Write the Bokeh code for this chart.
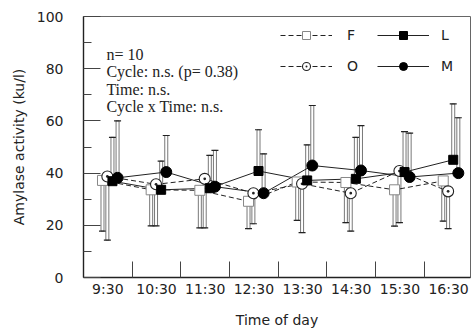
from bokeh.plotting import figure
from bokeh.models import Range1d, FixedTicker, Legend, LegendItem
from bokeh.core.properties import value
from bokeh.embed import file_html
from bokeh.resources import INLINE

# ---- data ----
times = ["9:30", "10:30", "11:30", "12:30", "13:30", "14:30", "15:30", "16:30"]
F_mean = [37.2, 33.6, 33.4, 29.2, 36.6, 36.4, 33.6, 37.0]
F_low = [17.8, 19.8, 19.0, 18.7, 21.9, 21.0, 19.7, 21.6]
O_mean = [38.7, 35.7, 37.8, 32.3, 35.9, 32.3, 40.8, 33.0]
O_low = [14.3, 19.8, 19.0, 20.6, 17.2, 17.8, 21.0, 18.7]
L_mean = [36.9, 33.6, 34.2, 40.8, 37.2, 37.8, 40.4, 45.1]
L_high = [53.7, 44.6, 46.8, 56.6, 50.8, 53.7, 55.9, 66.5]
M_mean = [38.2, 40.4, 34.8, 32.3, 42.9, 41.0, 38.5, 40.0]
M_high = [60.0, 54.4, 48.7, 47.4, 65.9, 58.2, 55.3, 61.2]
y_ticks = [0, 20, 40, 60, 80, 100]
y_minor = [10, 30, 50, 70, 90]
stats_lines = ["n= 10", "Cycle: n.s. (p= 0.38)", "Time: n.s.", "Cycle x Time: n.s."]

SANS = "DejaVu Sans"
idx = list(range(len(times)))
off = {"F": -0.11, "O": -0.01, "L": 0.095, "M": 0.2}
xs = {k: [i + o for i in idx] for k, o in off.items()}

p = figure(width=472, height=332, output_backend="svg", toolbar_location=None,
           x_range=Range1d(-0.5, 7.45), y_range=Range1d(0, 100),
           min_border_left=83, min_border_right=2, min_border_top=16, min_border_bottom=55)
p.grid.visible = False
p.outline_line_color = "#666"
p.background_fill_color = "white"
p.border_fill_color = "white"

def errbar(x, mean, end):
    yc = [(a + b) / 2 for a, b in zip(mean, end)]
    h = [abs(a - b) for a, b in zip(mean, end)]
    p.rect(x=x, y=yc, width=3, width_units="screen", height=h,
           fill_color="white", line_color="#555", line_width=0.8)
    p.scatter(x=x, y=end, marker="dash", size=7, line_color="#222", line_width=1.2)

errbar(xs["F"], F_mean, F_low)
errbar(xs["O"], O_mean, O_low)
errbar(xs["L"], L_mean, L_high)
errbar(xs["M"], M_mean, M_high)

lF = p.line(xs["F"], F_mean, line_color="#222", line_width=1, line_dash="5 3")
lO = p.line(xs["O"], O_mean, line_color="#222", line_width=1, line_dash="5 3")
lL = p.line(xs["L"], L_mean, line_color="#222", line_width=1)
lM = p.line(xs["M"], M_mean, line_color="#222", line_width=1)

sF = p.scatter(xs["F"], F_mean, marker="square", size=10, fill_color="white",
               line_color="#888", line_width=1)
sO = p.scatter(xs["O"], O_mean, marker="circle_dot", size=11, fill_color="white",
               line_color="#222", line_width=1.1)
sL = p.scatter(xs["L"], L_mean, marker="square", size=9, fill_color="black",
               line_color="black")
sM = p.scatter(xs["M"], M_mean, marker="circle", size=11, fill_color="black",
               line_color="black")

p.text(x=[-0.03] * 4, y=[85.6, 78.9, 72.2, 65.5], text=stats_lines,
       text_font=value("Liberation Serif"), text_font_size="16px",
       text_baseline="alphabetic", text_color="#222")

common = dict(glyph_width=52, glyph_height=20, spacing=11, padding=0, margin=0,
              border_line_color=None, background_fill_alpha=0,
              label_text_font=SANS, label_text_font_size="14px", label_text_color="#222")
leg1 = Legend(items=[LegendItem(label="F", renderers=[lF, sF]),
                     LegendItem(label="O", renderers=[lO, sO])],
              location=(197, 201), label_standoff=15, **common)
leg2 = Legend(items=[LegendItem(label="L", renderers=[lL, sL]),
                     LegendItem(label="M", renderers=[lM, sM])],
              location=(294, 201), label_standoff=12, **common)
p.add_layout(leg1)
p.add_layout(leg2)

# axes
p.xaxis.ticker = FixedTicker(ticks=idx, minor_ticks=[i + 0.5 for i in idx[:-1]])
p.xaxis.major_label_overrides = {i: t for i, t in zip(idx, times)}
p.xaxis.major_tick_in = 0
p.xaxis.major_tick_out = 0
p.xaxis.minor_tick_in = 16
p.xaxis.minor_tick_out = 0
p.xaxis.major_label_standoff = 3
p.xaxis.axis_label = "Time of day"
p.xaxis.axis_label_standoff = 12

p.yaxis.ticker = FixedTicker(ticks=y_ticks, minor_ticks=y_minor)
p.yaxis.major_tick_in = 17
p.yaxis.major_tick_out = 0
p.yaxis.minor_tick_in = 8
p.yaxis.minor_tick_out = 0
p.yaxis.major_label_standoff = 20
p.yaxis.axis_label = "Amylase activity (ku/l)"
p.yaxis.axis_label_standoff = 7

for ax in (p.xaxis, p.yaxis):
    ax.axis_line_color = "#222"
    ax.axis_line_width = 1.4
    ax.major_tick_line_color = "#444"
    ax.minor_tick_line_color = "#444"
    ax.major_label_text_font = SANS
    ax.major_label_text_font_size = "14px"
    ax.major_label_text_color = "#222"
    ax.axis_label_text_font = SANS
    ax.axis_label_text_font_size = "14px"
    ax.axis_label_text_font_style = "normal"
    ax.axis_label_text_color = "#222"

open("out.html", "w").write(file_html(p, INLINE))
